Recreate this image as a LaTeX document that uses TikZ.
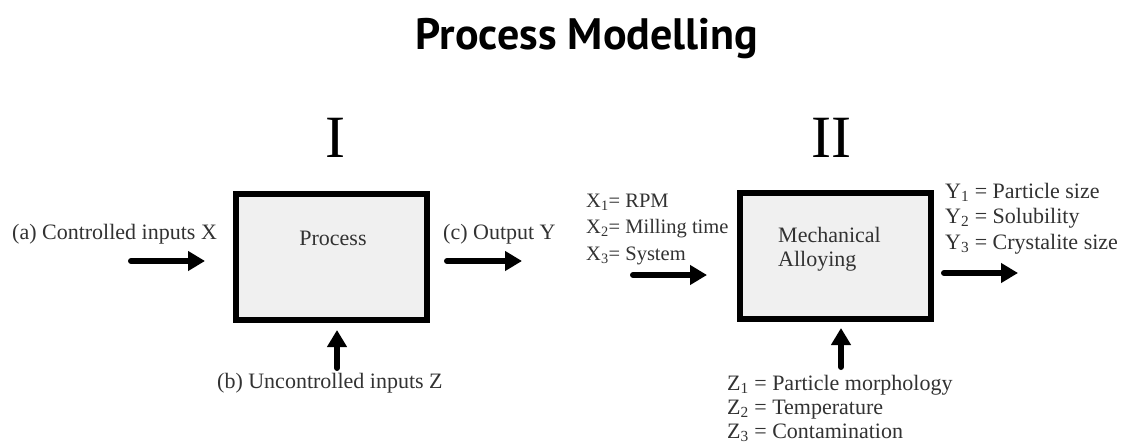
\documentclass[tikz,border=0pt]{standalone}
\usepackage{fontspec}
\setmainfont{Liberation Serif}
\newfontfamily\titlefont{PT Sans}
\usetikzlibrary{arrows.meta, positioning}
\definecolor{boxgray}{RGB}{240,240,240}
\definecolor{textgray}{RGB}{50,50,50}

\begin{document}
\begin{tikzpicture}[
    x=1pt, y=-1pt,
    block/.style={rectangle, draw=black, fill=boxgray, line width=6.5pt,
                  minimum width=191pt, minimum height=126pt, inner sep=0pt},
    lbl/.style={font=\fontsize{22}{26}\selectfont, text=textgray, inner sep=0pt, align=left},
    numeral/.style={font=\fontsize{60}{60}\selectfont, inner sep=0pt},
    arrow/.style={-{Triangle[length=17pt,width=19pt]}, line width=6pt, line cap=round}
]
\path[use as bounding box, fill=white] (0,0) rectangle (1122,444);

\node[font=\titlefont\bfseries\fontsize{44}{44}\selectfont, inner sep=0pt, anchor=base] (title) at (587,50) {Process Modelling};
\node[numeral, anchor=base] (one) at (335,157) {I};
\node[numeral, anchor=base] (two) at (831,157) {II};

\node[block] (proc) at (331.5,257) {};
\node[lbl, anchor=base] (proctext) at (333,245) {Process};
\node[block] (alloy) at (835.5,256) {};
\node[lbl, anchor=base west, font=\fontsize{22}{24}\selectfont] (alloytext) at (778,266) {Mechanical\\Alloying};

\node[lbl, anchor=base west] (ctrl) at (12,239) {(a) Controlled inputs X};
\node[lbl, anchor=base west] (out) at (443,239) {(c) Output Y};
\node[lbl, anchor=base west] (unctrl) at (217,388) {(b) Uncontrolled inputs Z};
\node[lbl, anchor=base west, font=\fontsize{20.5}{26.5}\selectfont] (xlist) at (586,260)
    {X\textsubscript{1}= RPM\\X\textsubscript{2}= Milling time\\X\textsubscript{3}= System};
\node[lbl, anchor=base west, font=\fontsize{22}{25.5}\selectfont] (ylist) at (945,249)
    {Y\textsubscript{1} = Particle size\\Y\textsubscript{2} = Solubility\\Y\textsubscript{3} = Crystalite size};
\node[lbl, anchor=base west, font=\fontsize{22}{24}\selectfont] (zlist) at (727,438)
    {Z\textsubscript{1} = Particle morphology\\Z\textsubscript{2} = Temperature\\Z\textsubscript{3} = Contamination};

\coordinate (a0) at (131,261);  \coordinate (a1) at (205,261);
\coordinate (c0) at (447,261);  \coordinate (c1) at (522,261);
\coordinate (b0) at (337,368);  \coordinate (b1) at (337,330);
\coordinate (x0) at (633,275);  \coordinate (x1) at (707,275);
\coordinate (y0) at (944,273);  \coordinate (y1) at (1018,273);
\coordinate (z0) at (841,367);  \coordinate (z1) at (841,328);
\draw[arrow] (a0) -- (a1);
\draw[arrow] (c0) -- (c1);
\draw[arrow] (b0) -- (b1);
\draw[arrow] (x0) -- (x1);
\draw[arrow] (y0) -- (y1);
\draw[arrow] (z0) -- (z1);
\end{tikzpicture}
\end{document}
